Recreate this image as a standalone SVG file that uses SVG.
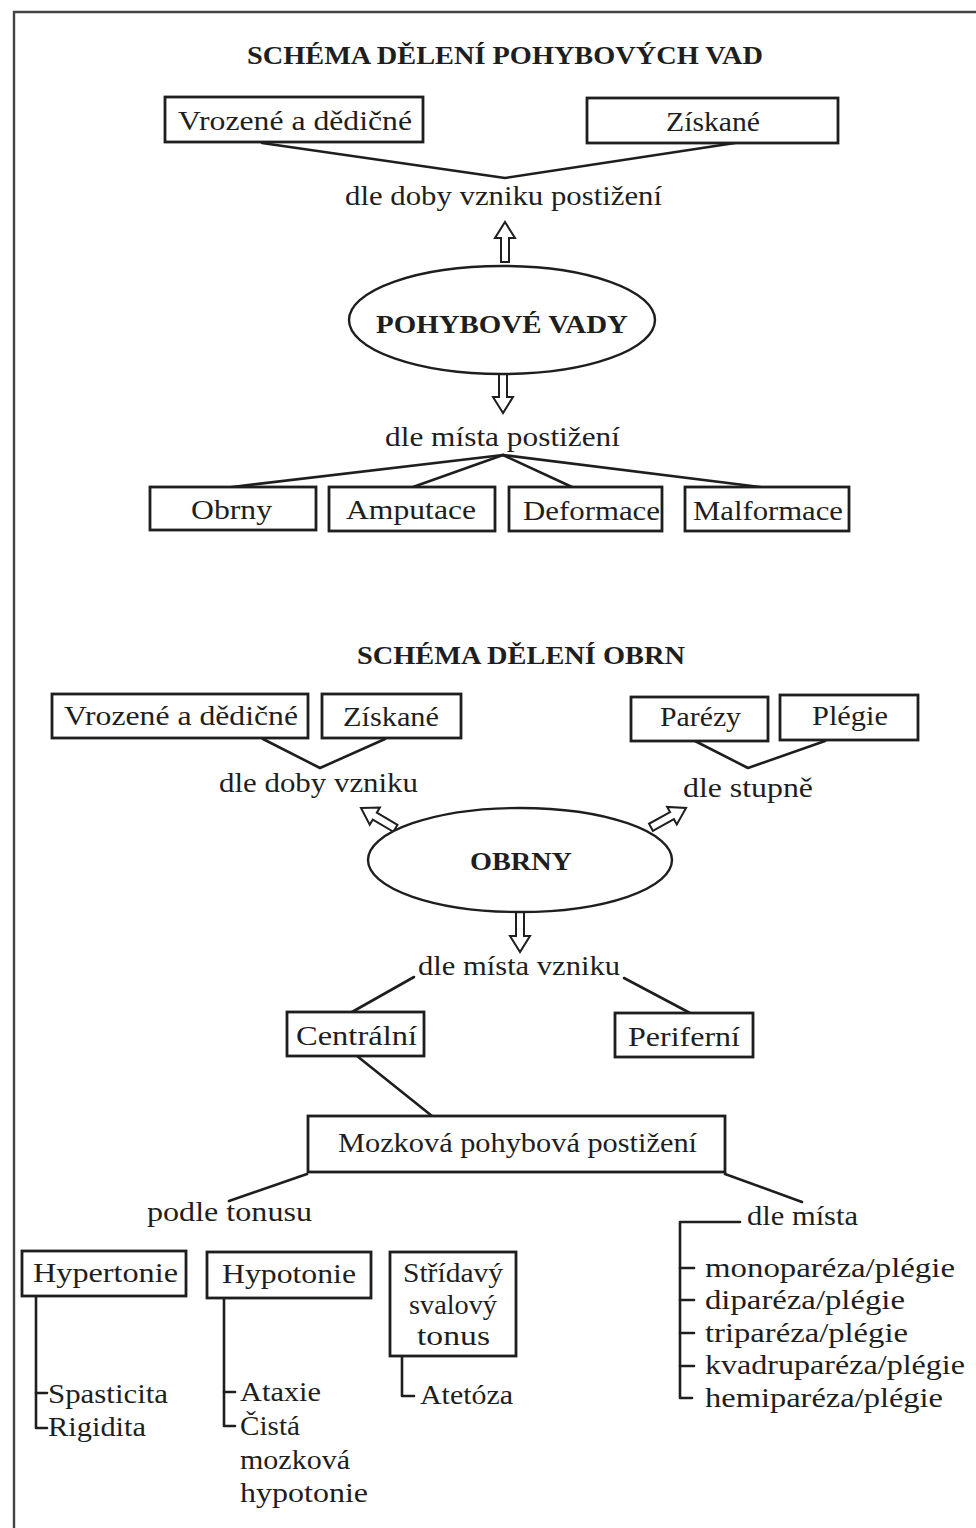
<svg xmlns="http://www.w3.org/2000/svg" width="976" height="1528" viewBox="0 0 976 1528">
  <defs>
    <style>
      .ln { stroke: #1e1e1e; stroke-width: 2.6; fill: none; stroke-linecap: round; stroke-linejoin: round; }
      .box { stroke: #1e1e1e; stroke-width: 2.8; fill: #fff; }
      .ell { stroke: #1e1e1e; stroke-width: 2.4; fill: #fff; }
      .arr { stroke: #1e1e1e; stroke-width: 2; fill: #fff; stroke-linejoin: miter; }
      text { font-family: "Liberation Serif", "DejaVu Serif", serif; fill: #1e1e1e; font-size: 28px; }
      .t { font-weight: bold; font-size: 25px; }
    </style>
    <!-- hollow block arrow, tip at origin, pointing up, length 40 -->
    <polygon id="blk" points="0,0 10,16 4,16 4,40 -4,40 -4,16 -10,16"/>
  </defs>

  <rect x="0" y="0" width="976" height="1528" fill="#fff"/>
  <!-- page frame -->
  <path d="M14,1528 V12 H976" fill="none" stroke="#444" stroke-width="2.4"/>

  <!-- titles -->
  <text class="t" x="247" y="64" textLength="516" lengthAdjust="spacingAndGlyphs">SCHÉMA DĚLENÍ POHYBOVÝCH VAD</text>
  <text class="t" x="357" y="664" textLength="328" lengthAdjust="spacingAndGlyphs">SCHÉMA DĚLENÍ OBRN</text>

  <!-- connectors -->
  <g id="connectors">
    <polyline class="ln" points="262,143 505,178 735,143"/>
    <use href="#blk" class="arr" transform="translate(505,222)"/>
    <use href="#blk" class="arr" transform="translate(503,413) rotate(180)"/>
    <line class="ln" x1="503" y1="455" x2="232" y2="487"/>
    <line class="ln" x1="503" y1="455" x2="413" y2="487"/>
    <line class="ln" x1="503" y1="455" x2="572" y2="487"/>
    <line class="ln" x1="503" y1="455" x2="760" y2="487"/>

    <polyline class="ln" points="263,739 320,768 385,739"/>
    <polyline class="ln" points="695,741 748,768 825,741"/>
    <use href="#blk" class="arr" transform="translate(361,808) rotate(-59.5)"/>
    <use href="#blk" class="arr" transform="translate(686,808) rotate(61.2)"/>
    <use href="#blk" class="arr" transform="translate(520,952) rotate(180)"/>
    <line class="ln" x1="414" y1="977" x2="352" y2="1012"/>
    <line class="ln" x1="624" y1="978" x2="690" y2="1013"/>
    <line class="ln" x1="357" y1="1056" x2="432" y2="1116"/>
    <line class="ln" x1="307" y1="1174" x2="229" y2="1201"/>
    <line class="ln" x1="725" y1="1174" x2="802" y2="1202"/>

    <!-- dle místa bracket -->
    <polyline class="ln" points="740,1222 680,1222 680,1398 692,1398"/>
    <line class="ln" x1="680" y1="1268" x2="694" y2="1268"/>
    <line class="ln" x1="680" y1="1300" x2="694" y2="1300"/>
    <line class="ln" x1="680" y1="1333" x2="694" y2="1333"/>
    <line class="ln" x1="680" y1="1366" x2="694" y2="1366"/>

    <!-- tonus brackets -->
    <polyline class="ln" points="36,1296 36,1428 47,1428"/>
    <line class="ln" x1="36" y1="1393" x2="47" y2="1393"/>
    <polyline class="ln" points="224,1298 224,1426 235,1426"/>
    <line class="ln" x1="224" y1="1392" x2="235" y2="1392"/>
    <polyline class="ln" points="402,1356 402,1396 414,1396"/>
  </g>

  <!-- top scheme -->
  <g id="n-vrozene1"><rect class="box" x="165" y="97" width="258" height="45"/><text x="178" y="130" textLength="234" lengthAdjust="spacingAndGlyphs">Vrozené a dědičné</text></g>
  <g id="n-ziskane1"><rect class="box" x="587" y="98" width="251" height="45"/><text x="666" y="131" textLength="94" lengthAdjust="spacingAndGlyphs">Získané</text></g>
  <g id="n-doba1"><text x="345" y="205" textLength="317" lengthAdjust="spacingAndGlyphs">dle doby vzniku postižení</text></g>
  <g id="n-vady"><ellipse class="ell" cx="502" cy="320" rx="153" ry="54"/><text class="t" x="376" y="333" textLength="252" lengthAdjust="spacingAndGlyphs">POHYBOVÉ  VADY</text></g>
  <g id="n-misto1"><text x="385" y="446" textLength="235" lengthAdjust="spacingAndGlyphs">dle místa postižení</text></g>
  <g id="n-obrny1"><rect class="box" x="150" y="487" width="166" height="43"/><text x="191" y="519" textLength="81" lengthAdjust="spacingAndGlyphs">Obrny</text></g>
  <g id="n-amputace"><rect class="box" x="329" y="487" width="166" height="44"/><text x="346" y="519" textLength="130" lengthAdjust="spacingAndGlyphs">Amputace</text></g>
  <g id="n-deformace"><rect class="box" x="509" y="487" width="153" height="44"/><text x="523" y="520" textLength="137" lengthAdjust="spacingAndGlyphs">Deformace</text></g>
  <g id="n-malformace"><rect class="box" x="685" y="487" width="164" height="44"/><text x="693" y="520" textLength="150" lengthAdjust="spacingAndGlyphs">Malformace</text></g>

  <!-- lower scheme -->
  <g id="n-vrozene2"><rect class="box" x="52" y="694" width="256" height="44"/><text x="64" y="725" textLength="234" lengthAdjust="spacingAndGlyphs">Vrozené a dědičné</text></g>
  <g id="n-ziskane2"><rect class="box" x="322" y="694" width="139" height="44"/><text x="343" y="726" textLength="96" lengthAdjust="spacingAndGlyphs">Získané</text></g>
  <g id="n-parezy"><rect class="box" x="631" y="697" width="137" height="44"/><text x="660" y="726" textLength="81" lengthAdjust="spacingAndGlyphs">Parézy</text></g>
  <g id="n-plegie"><rect class="box" x="780" y="695" width="138" height="45"/><text x="812" y="725" textLength="76" lengthAdjust="spacingAndGlyphs">Plégie</text></g>
  <g id="n-doba2"><text x="219" y="792" textLength="199" lengthAdjust="spacingAndGlyphs">dle doby vzniku</text></g>
  <g id="n-stupen"><text x="683" y="797" textLength="130" lengthAdjust="spacingAndGlyphs">dle stupně</text></g>
  <g id="n-obrny"><ellipse class="ell" cx="520" cy="860" rx="152" ry="52"/><text class="t" x="470" y="870" textLength="102" lengthAdjust="spacingAndGlyphs">OBRNY</text></g>
  <g id="n-misto2"><text x="418" y="975" textLength="202" lengthAdjust="spacingAndGlyphs">dle místa vzniku</text></g>
  <g id="n-centralni"><rect class="box" x="287" y="1012" width="137" height="44"/><text x="296" y="1045" textLength="121" lengthAdjust="spacingAndGlyphs">Centrální</text></g>
  <g id="n-periferni"><rect class="box" x="615" y="1013" width="138" height="44"/><text x="628" y="1046" textLength="112" lengthAdjust="spacingAndGlyphs">Periferní</text></g>
  <g id="n-mozkova"><rect class="box" x="308" y="1116" width="417" height="56"/><text x="338" y="1152" textLength="359" lengthAdjust="spacingAndGlyphs">Mozková pohybová postižení</text></g>
  <g id="n-tonus"><text x="147" y="1221" textLength="165" lengthAdjust="spacingAndGlyphs">podle tonusu</text></g>
  <g id="n-misto3"><text x="747" y="1225" textLength="111" lengthAdjust="spacingAndGlyphs">dle místa</text></g>

  <g id="n-hypertonie"><rect class="box" x="22" y="1251" width="164" height="45"/><text x="33" y="1282" textLength="145" lengthAdjust="spacingAndGlyphs">Hypertonie</text></g>
  <g id="n-hypotonie"><rect class="box" x="207" y="1252" width="164" height="46"/><text x="222" y="1283" textLength="134" lengthAdjust="spacingAndGlyphs">Hypotonie</text></g>
  <g id="n-stridavy"><rect class="box" x="390" y="1252" width="126" height="104"/>
    <text x="403" y="1282" textLength="100" lengthAdjust="spacingAndGlyphs">Střídavý</text>
    <text x="409" y="1314" textLength="88" lengthAdjust="spacingAndGlyphs">svalový</text>
    <text x="417" y="1345" textLength="73" lengthAdjust="spacingAndGlyphs">tonus</text>
  </g>

  <g id="n-hypertonie-items">
    <text x="48" y="1403" textLength="120" lengthAdjust="spacingAndGlyphs">Spasticita</text>
    <text x="48" y="1436" textLength="98" lengthAdjust="spacingAndGlyphs">Rigidita</text>
  </g>
  <g id="n-hypotonie-items">
    <text x="240" y="1401" textLength="81" lengthAdjust="spacingAndGlyphs">Ataxie</text>
    <text x="240" y="1435" textLength="60" lengthAdjust="spacingAndGlyphs">Čistá</text>
    <text x="240" y="1469" textLength="110" lengthAdjust="spacingAndGlyphs">mozková</text>
    <text x="240" y="1502" textLength="128" lengthAdjust="spacingAndGlyphs">hypotonie</text>
  </g>
  <g id="n-stridavy-items"><text x="420" y="1404" textLength="93" lengthAdjust="spacingAndGlyphs">Atetóza</text></g>
  <g id="n-misto-items">
    <text x="705" y="1277" textLength="250" lengthAdjust="spacingAndGlyphs">monoparéza/plégie</text>
    <text x="705" y="1309" textLength="200" lengthAdjust="spacingAndGlyphs">diparéza/plégie</text>
    <text x="705" y="1342" textLength="203" lengthAdjust="spacingAndGlyphs">triparéza/plégie</text>
    <text x="705" y="1374" textLength="260" lengthAdjust="spacingAndGlyphs">kvadruparéza/plégie</text>
    <text x="705" y="1407" textLength="238" lengthAdjust="spacingAndGlyphs">hemiparéza/plégie</text>
  </g>
</svg>
